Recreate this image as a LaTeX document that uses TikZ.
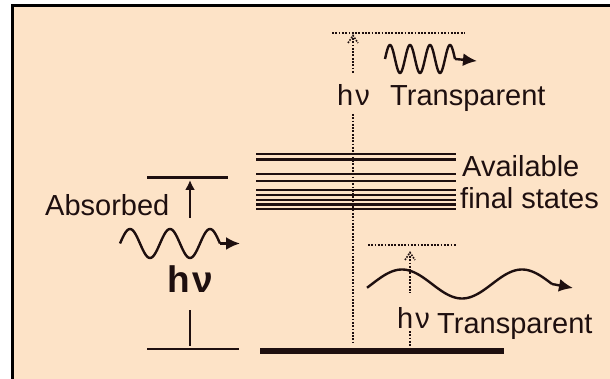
\documentclass[tikz,border=0pt]{standalone}
\usepackage{fontspec}
\setmainfont{Liberation Sans}
\usetikzlibrary{arrows.meta}
\definecolor{peach}{RGB}{253,227,199}
\definecolor{ink}{RGB}{30,15,15}
\tikzset{
  lbl/.style={anchor=base west, inner sep=0pt, text=ink, font=\fontsize{29}{29}\selectfont},
  level/.style={draw=ink, line width=2.6pt},
  dots/.style={draw=ink, line width=1.8pt, dash pattern=on 1.8pt off 1.5pt},
  wave/.style={draw=ink, line width=2.4pt, line join=round},
  tip/.style={-{Latex[length=14pt,width=13pt]}}
}
\begin{document}
\begin{tikzpicture}[x=1pt,y=-1pt]
\useasboundingbox (0,0) rectangle (610,379);
\fill[white] (0,0) rectangle (610,379);
\fill[peach] (12,6) rectangle (610,379);
\draw[black, line width=3pt] (12.5,379) -- (12.5,6) -- (610,6);

% left absorbed levels
\coordinate (lu1) at (147,177.5); \coordinate (lu2) at (228,177.5);
\coordinate (ll1) at (147,349);   \coordinate (ll2) at (239,349);
\draw[level] (lu1) -- (lu2);
\draw[level] (ll1) -- (ll2);
\coordinate (ab1) at (190,218); \coordinate (ab2) at (190,180);
\draw[draw=ink, line width=2.4pt, -{Latex[length=10pt,width=10pt]}] (ab1) -- (ab2);
\coordinate (st1) at (190,310); \coordinate (st2) at (190,346);
\draw[draw=ink, line width=2.4pt] (st1) -- (st2);

% final states band
\foreach \y in {154,159.5,174,181,190,195,200,204.5,209}
  \draw[draw=ink, line width=2.2pt] (256,\y) -- (456,\y);

% ground level
\coordinate (g1) at (260,351); \coordinate (g2) at (504,351);
\draw[draw=ink, line width=5.5pt] (g1) -- (g2);

% tall dotted transition
\coordinate (th1) at (332,33); \coordinate (th2) at (465,33);
\draw[dots] (th1) -- (th2);
\coordinate (tv1) at (353,38); \coordinate (tv2) at (353,73);
\coordinate (tv3) at (353,114); \coordinate (tv4) at (353,343);
\draw[dots] (tv1) -- (tv2);
\draw[dots] (tv3) -- (tv4);
\draw[draw=ink, line width=1.6pt, dash pattern=on 1.6pt off 1.3pt] (348,43) -- (353,35.5) -- (358,43);

% short dotted transition
\coordinate (bh1) at (368,245); \coordinate (bh2) at (457,245);
\draw[dots] (bh1) -- (bh2);
\coordinate (bv1) at (410,256); \coordinate (bv2) at (410,293);
\coordinate (bv3) at (410,331); \coordinate (bv4) at (410,348);
\draw[dots] (bv1) -- (bv2);
\draw[dots] (bv3) -- (bv4);
\draw[draw=ink, line width=1.6pt, dash pattern=on 1.6pt off 1.3pt] (405,260) -- (410,252.5) -- (415,260);

% waves
\coordinate (lw) at (220,243.5); \coordinate (lwt) at (240,243.5);
\draw[wave] plot[domain=120:220, samples=101, smooth] (\x, {243.5-14.5*sin(9*(\x-120))});
\draw[wave, tip] (lw) -- (lwt);

\coordinate (tw) at (455,59); \coordinate (twt) at (477,61);
\draw[wave] plot[domain=385:455, samples=141, smooth] (\x, {59-14*sin(18*(\x-385))});
\draw[wave, tip] (tw) -- (twt);

\coordinate (bw) at (552,284); \coordinate (bwt) at (573,288);
\draw[wave] plot[domain=367:552, samples=120, smooth] (\x, {284-14.5*sin(3*(\x-372))});
\draw[wave, tip] (bw) -- (bwt);

% labels
\node[lbl] (absorbed) at (45,216) {Absorbed};
\node[lbl, font=\fontsize{37}{37}\selectfont\bfseries] (hvbig) at (167,292) {h\kern3pt ν};
\node[lbl] (hvtop) at (337,106) {h\kern2pt ν};
\node[lbl] (trtop) at (390,106) {Transparent};
\node[lbl] (avail) at (462,177) {Available};
\node[lbl] (final) at (460,209) {final states};
\node[lbl] (hvbot) at (397,328) {h\kern2pt ν};
\node[lbl] (trbot) at (437,333) {Transparent};
\end{tikzpicture}
\end{document}
